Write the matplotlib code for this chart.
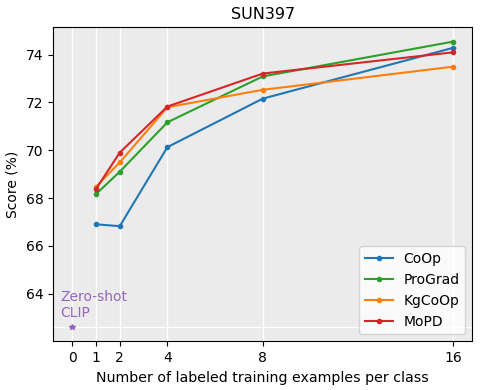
import numpy as np
import matplotlib
matplotlib.use('Agg')
import matplotlib.pyplot as plt

# Donnees
shots = [1, 2, 4, 8, 16]
coop = [66.90, 66.82, 70.13, 72.16, 74.29]
prograd = [68.16, 69.10, 71.17, 73.09, 74.55]
kgcoop = [68.47, 69.49, 71.80, 72.53, 73.50]
mopd = [68.37, 69.90, 71.83, 73.21, 74.10]
zs_clip = 62.60
xticks = [0, 1, 2, 4, 8, 16]

fig, ax = plt.subplots(figsize=(4.82, 3.9), dpi=100)
ax.set_facecolor('#EBEBEB')

ax.plot(shots, coop, marker='o', markersize=3, lw=1.5, color='#1f77b4', label='CoOp')
ax.plot(shots, prograd, marker='o', markersize=3, lw=1.5, color='#2ca02c', label='ProGrad')
ax.plot(shots, kgcoop, marker='o', markersize=3, lw=1.5, color='#ff7f0e', label='KgCoOp')
ax.plot(shots, mopd, marker='o', markersize=3, lw=1.5, color='#d62728', label='MoPD')

# Zero-shot CLIP
ax.plot([0], [zs_clip], marker='*', markersize=4, color='#9467bd', linestyle='none')
ax.axhline(zs_clip, color='white', lw=1, zorder=0.5)
ax.text(-0.5, zs_clip + 0.28, 'Zero-shot\nCLIP', color='#9467bd', fontsize=10, ha='left', va='bottom',
        linespacing=1.2)

ax.set_xticks(xticks)
ax.grid(axis='x', color='white', lw=1)
ax.set_axisbelow(True)
ax.set_title('SUN397', fontsize=11.5)
ax.set_xlabel('Number of labeled training examples per class', fontsize=10.2)
ax.set_ylabel('Score (%)', fontsize=10)
ax.tick_params(labelsize=10)
ax.legend(loc='lower right', fontsize=10)

plt.subplots_adjust(left=0.11, right=0.98, top=0.93, bottom=0.125)
plt.savefig('out.png', dpi=100)
